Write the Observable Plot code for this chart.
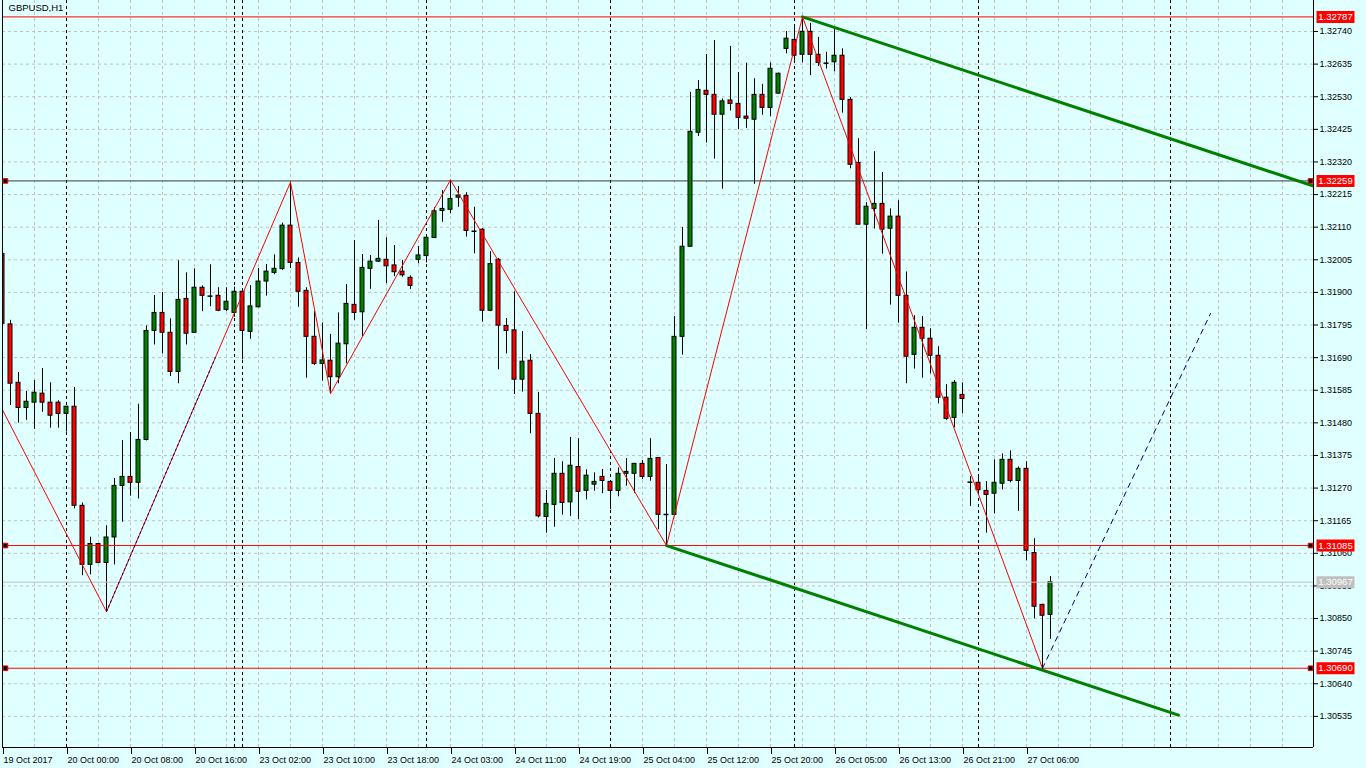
<!DOCTYPE html>
<html><head><meta charset="utf-8">
<script src="https://cdn.jsdelivr.net/npm/d3@7"></script>
<script src="https://cdn.jsdelivr.net/npm/@observablehq/plot@0.6"></script>
<style>
html,body{margin:0;padding:0;background:#E0FFFF;overflow:hidden;}
#chart svg{display:block}
</style></head><body><div id="chart"></div>
<script>
const chartTitle = "GBPUSD,H1";

const opens = [1.32024,1.31797,1.31609,1.31528,1.31545,1.31574,1.31545,1.31545,1.31509,1.31532,
1.31213,1.31023,1.31090,1.31029,1.31111,1.31277,1.31306,1.31287,1.31425,1.31776,
1.31834,1.31770,1.31644,1.31879,1.31770,1.31915,1.31888,1.31889,1.31844,1.31834,
1.31902,1.31773,1.31852,1.31935,1.31963,1.31975,1.32115,1.31995,1.31905,1.31757,
1.31670,1.31680,1.31627,1.31733,1.31860,1.31836,1.31976,1.31999,1.32005,1.31987,
1.31967,1.31947,1.32005,1.32017,1.32075,1.32162,1.32166,1.32205,1.32211,1.32097,
1.32102,1.31841,1.32005,1.31792,1.31778,1.31619,1.31680,1.31509,1.31177,1.31216,
1.31316,1.31224,1.31338,1.31261,1.31281,1.31306,1.31290,1.31261,1.31316,1.31316,
1.31348,1.31306,1.31367,1.31185,1.31184,1.31757,1.32047,1.32414,1.32549,1.32536,
1.32472,1.32518,1.32507,1.32466,1.32456,1.32536,1.32494,1.32540,1.32684,1.32713,
1.32665,1.32739,1.32665,1.32638,1.32641,1.32662,1.32520,1.32317,1.32118,1.32169,
1.32185,1.32105,1.32144,1.31889,1.31699,1.31786,1.31751,1.31696,1.31561,1.31496,
1.31570,1.31289,1.31287,1.31261,1.31252,1.31284,1.31361,1.31293,1.31332,1.31061,
1.30894,1.30862];

const highs = [1.32029,1.31810,1.31642,1.31581,1.31616,1.31655,1.31609,1.31551,1.31532,1.31594,
1.31222,1.31112,1.31090,1.31149,1.31301,1.31423,1.31449,1.31540,1.31792,1.31890,
1.31900,1.31815,1.32002,1.31963,1.31976,1.31921,1.31989,1.31915,1.31915,1.31917,
1.31905,1.31922,1.31977,1.31990,1.32021,1.32123,1.32255,1.32011,1.31915,1.31838,
1.31802,1.31765,1.31834,1.31925,1.32067,1.32022,1.32019,1.32132,1.32076,1.32051,
1.32003,1.31953,1.32048,1.32076,1.32173,1.32228,1.32262,1.32241,1.32221,1.32174,
1.32105,1.32031,1.32009,1.31816,1.31902,1.31774,1.31700,1.31578,1.31262,1.31365,
1.31355,1.31433,1.31429,1.31329,1.31319,1.31330,1.31293,1.31335,1.31365,1.31348,
1.31359,1.31429,1.31367,1.31346,1.31822,1.32109,1.32544,1.32582,1.32666,1.32711,
1.32523,1.32692,1.32608,1.32638,1.32588,1.32570,1.32639,1.32606,1.32740,1.32756,
1.32787,1.32766,1.32721,1.32673,1.32752,1.32684,1.32527,1.32395,1.32189,1.32353,
1.32286,1.32169,1.32195,1.31966,1.31825,1.31822,1.31783,1.31725,1.31603,1.31616,
1.31609,1.31307,1.31307,1.31291,1.31361,1.31380,1.31390,1.31338,1.31355,1.31107,
1.30896,1.30985];

const lows = [1.31793,1.31536,1.31479,1.31488,1.31459,1.31514,1.31463,1.31463,1.31450,1.31203,
1.30988,1.30991,1.31026,1.30872,1.31023,1.31160,1.31244,1.31235,1.31422,1.31731,
1.31702,1.31629,1.31606,1.31731,1.31770,1.31838,1.31854,1.31838,1.31838,1.31820,
1.31683,1.31749,1.31851,1.31888,1.31957,1.31971,1.31977,1.31852,1.31624,1.31665,
1.31614,1.31574,1.31606,1.31670,1.31810,1.31758,1.31910,1.31996,1.31928,1.31951,
1.31949,1.31910,1.31992,1.31995,1.32075,1.32126,1.32153,1.32174,1.32078,1.32024,
1.31804,1.31838,1.31651,1.31702,1.31571,1.31579,1.31445,1.31174,1.31125,1.31144,
1.31183,1.31179,1.31168,1.31232,1.31260,1.31252,1.31200,1.31242,1.31276,1.31253,
1.31297,1.31292,1.31136,1.31085,1.31180,1.31698,1.32047,1.32402,1.32381,1.32329,
1.32232,1.32484,1.32424,1.32428,1.32248,1.32470,1.32466,1.32538,1.32668,1.32639,
1.32639,1.32598,1.32627,1.32619,1.32610,1.32477,1.32298,1.32118,1.31780,1.32104,
1.32023,1.31859,1.31801,1.31606,1.31653,1.31624,1.31638,1.31541,1.31488,1.31464,
1.31509,1.31211,1.31256,1.31125,1.31187,1.31264,1.31287,1.31195,1.31036,1.30849,
1.30690,1.30783];

const closes = [1.31799,1.31606,1.31528,1.31548,1.31577,1.31545,1.31503,1.31509,1.31532,1.31213,
1.31023,1.31090,1.31029,1.31111,1.31277,1.31306,1.31287,1.31425,1.31776,1.31834,
1.31770,1.31644,1.31876,1.31767,1.31915,1.31889,1.31888,1.31841,1.31870,1.31902,
1.31776,1.31855,1.31935,1.31967,1.31976,1.32115,1.31995,1.31902,1.31757,1.31670,
1.31681,1.31627,1.31735,1.31863,1.31834,1.31979,1.31999,1.32008,1.31984,1.31965,
1.31955,1.31921,1.32019,1.32076,1.32161,1.32169,1.32201,1.32212,1.32098,1.32097,
1.31841,1.31991,1.31793,1.31776,1.31619,1.31677,1.31509,1.31179,1.31219,1.31316,
1.31222,1.31342,1.31258,1.31310,1.31290,1.31293,1.31261,1.31316,1.31322,1.31348,
1.31306,1.31364,1.31184,1.31185,1.31757,1.32047,1.32417,1.32552,1.32536,1.32472,
1.32515,1.32507,1.32462,1.32459,1.32536,1.32494,1.32620,1.32604,1.32717,1.32662,
1.32739,1.32665,1.32639,1.32638,1.32662,1.32520,1.32311,1.32118,1.32176,1.32185,
1.32102,1.32144,1.31889,1.31693,1.31786,1.31751,1.31696,1.31561,1.31493,1.31609,
1.31557,1.31289,1.31263,1.31248,1.31287,1.31361,1.31293,1.31332,1.31068,1.30888,
1.30859,1.30967];

// time axis (bar index -> label)
const timeTickIdx = [0,8,16,24,32,40,48,56,64,72,80,88,96,104,112,120,128];
const timeTickLabels = ["19 Oct 2017","20 Oct 00:00","20 Oct 08:00","20 Oct 16:00","23 Oct 02:00",
"23 Oct 10:00","23 Oct 18:00","24 Oct 03:00","24 Oct 11:00","24 Oct 19:00","25 Oct 04:00",
"25 Oct 12:00","25 Oct 20:00","26 Oct 05:00","26 Oct 13:00","26 Oct 21:00","27 Oct 06:00"];
const daySeparatorIdx = [8,29,30,53,76,99,122,146];

const priceTicks = [1.32740,1.32635,1.32530,1.32425,1.32320,1.32215,1.32110,1.32005,1.31900,1.31795,
1.31690,1.31585,1.31480,1.31375,1.31270,1.31165,1.31060,1.30955,1.30850,1.30745,1.30640,1.30535];

// zigzag
const zigzagIdx = [0,13,36,41,56,83,100,130];
const zigzagPrice = [1.31522,1.30872,1.32255,1.31574,1.32262,1.31085,1.32787,1.30690];

// channel lines
const upperChannelIdx = [100,172];
const upperChannelPrice = [1.32787,1.32173];
const lowerChannelIdx = [83,147];
const lowerChannelPrice = [1.31085,1.30539];

// projection (dash) lines
const projectionAIdx = [13,26.6];
const projectionAPrice = [1.30872,1.31690];
const projectionBIdx = [130,151];
const projectionBPrice = [1.30690,1.31832];

// horizontal levels
const levelPrices = [1.32787,1.32259,1.31085,1.30967,1.30690];
const levelKinds = ["high","pivot","support","bid","support"];

// ------------------------------------------------------------------
const candles = opens.map((o,i)=>({k:i, open:o, high:highs[i], low:lows[i], close:closes[i]}));
const dojis = candles.filter(d=>d.open===d.close);
const zigzag = zigzagIdx.map((k,i)=>({k, p:zigzagPrice[i]}));
const upperCh = upperChannelIdx.map((k,i)=>({k, p:upperChannelPrice[i]}));
const lowerCh = lowerChannelIdx.map((k,i)=>({k, p:lowerChannelPrice[i]}));
const projA = projectionAIdx.map((k,i)=>({k, p:projectionAPrice[i]}));
const projB = projectionBIdx.map((k,i)=>({k, p:projectionBPrice[i]}));
const levels = levelPrices.map((p,i)=>({p, kind:levelKinds[i]}));
const markerLevels = levels.filter(d=>d.kind==="pivot"||d.kind==="support");

const lineColor = {high:"#FF0000", pivot:"#3c3c3c", support:"#FF0000", bid:"#C0C0C0"};
const boxColor = {high:"#FF0000", pivot:"#FF0000", support:"#FF0000", bid:"#C0C0C0"};

const W = 1366, H = 768;
const mLeft = 2, mRight = 53, mTop = 0, mBottom = 21;
const barPx = 8;
const xDomain = [0, (W - mLeft - mRight) / barPx];
const pxPerUnit = 31060;
const yDomain = [1.32005 - (H - mBottom - 259.3) / pxPerUnit, 1.32005 + (259.3 - mTop) / pxPerUnit];

const boxSymbol = {draw(ctx){ ctx.rect(-19, -6, 38, 12); }};
const gridIdx = d3.range(4, xDomain[1], 4);

const chart = Plot.plot({
  width: W, height: H,
  marginLeft: mLeft, marginRight: mRight, marginTop: mTop, marginBottom: mBottom,
  x: {domain: xDomain},
  y: {domain: yDomain},
  style: {background: "#E0FFFF", fontFamily: "'Liberation Sans', Arial, sans-serif", fontSize: "9px", color: "black", overflow: "visible"},
  marks: [
    Plot.gridY({ticks: priceTicks, stroke: "#C0C0C0", strokeOpacity: 1, strokeDasharray: "3,3"}),
    Plot.gridX({ticks: gridIdx, stroke: "#C0C0C0", strokeOpacity: 1, strokeDasharray: "3,3"}),
    Plot.ruleX(daySeparatorIdx, {stroke: "black", strokeDasharray: "3,3"}),
    // candles
    Plot.ruleX(candles, {x: "k", y1: "low", y2: "high", stroke: "black", clip: true}),
    Plot.rect(candles, {x1: d=>d.k-0.5, x2: d=>d.k+0.5, y1: "open", y2: "close", insetLeft: 2, insetRight: 2,
      fill: d=>d.close>=d.open ? "#008000" : "#FF0000", stroke: "black", strokeWidth: 1, clip: true}),
    Plot.ruleY(dojis, {y: "open", x1: d=>d.k-0.31, x2: d=>d.k+0.31, stroke: "black", strokeWidth: 1.5}),
    // levels
    Plot.ruleY(levels, {y: "p", stroke: d=>lineColor[d.kind], strokeWidth: 1}),
    // channels
    Plot.line(upperCh, {x: "k", y: "p", stroke: "#008000", strokeWidth: 3, clip: true}),
    Plot.line(lowerCh, {x: "k", y: "p", stroke: "#008000", strokeWidth: 3, clip: true}),
    // zigzag
    Plot.line(zigzag, {x: "k", y: "p", stroke: "#FF0000", strokeWidth: 1, clip: true}),
    Plot.line(projA, {x: "k", y: "p", stroke: "#000080", strokeWidth: 1, strokeDasharray: "2,3"}),
    Plot.line(projB, {x: "k", y: "p", stroke: "#000080", strokeWidth: 1, strokeDasharray: "5,5"}),
    // frame
    Plot.ruleX([xDomain[0]], {stroke: "black"}),
    Plot.ruleX([xDomain[1]], {stroke: "black"}),
    Plot.ruleY([yDomain[0]], {stroke: "black"}),
    // axes
    Plot.axisY({ticks: priceTicks, anchor: "right", tickSize: 4, tickPadding: 2,
      tickFormat: d=>d.toFixed(5), fontSize: 9, label: null}),
    Plot.axisX({ticks: timeTickIdx, anchor: "bottom", tickSize: 7, tickPadding: 2,
      tickFormat: d=>timeTickLabels[timeTickIdx.indexOf(d)], textAnchor: "start", dx: 1, fontSize: 9, label: null}),
    // level markers & price boxes
    Plot.dot(markerLevels, {y: "p", frameAnchor: "left", dx: 3, symbol: "square", r: 2.6,
      fill: d=>d.kind==="pivot" ? "black" : "black", stroke: "#FF0000", strokeWidth: 1}),
    Plot.dot(markerLevels, {y: "p", frameAnchor: "right", dx: -3, symbol: "square", r: 2.6,
      fill: "black", stroke: "#FF0000", strokeWidth: 1}),
    Plot.dot(levels, {y: "p", frameAnchor: "right", dx: 22, symbol: boxSymbol, fill: d=>boxColor[d.kind], stroke: "none"}),
    Plot.text(levels, {y: "p", frameAnchor: "right", dx: 22, text: d=>d.p.toFixed(5), fill: "white",
      fontSize: 9.5, textAnchor: "middle"}),
    // title
    Plot.text([chartTitle], {frameAnchor: "top-left", dx: 6, dy: 4, lineAnchor: "top", fontSize: 9.5, textAnchor: "start", fill: "black"})
  ]
});
document.getElementById("chart").appendChild(chart);
</script>
</body></html>
